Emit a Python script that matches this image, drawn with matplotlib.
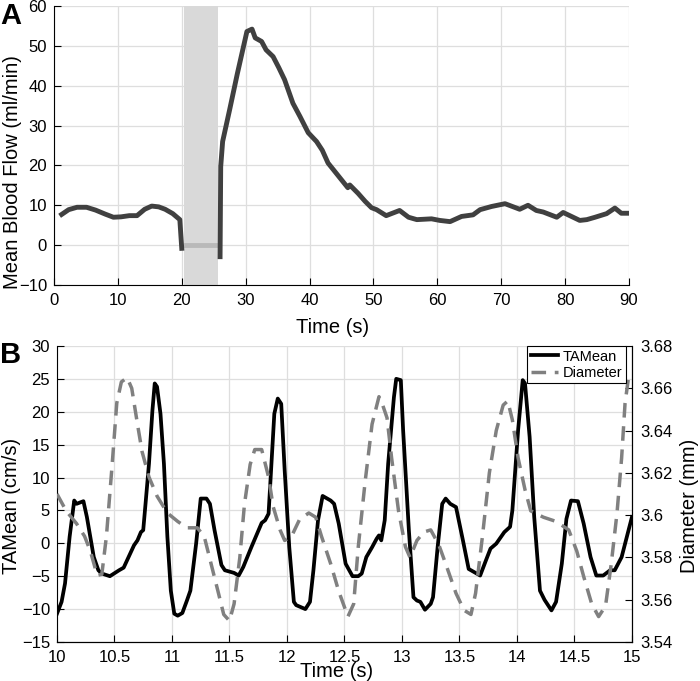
import numpy as np
import matplotlib
matplotlib.use("Agg")
from matplotlib import pyplot as plt

plt.rcParams['font.family'] = ['Liberation Sans', 'DejaVu Sans']

# panel A: mean blood flow (ml/min) vs time (s)
flow_pre_t = [1.2, 2.3, 3.6, 5.1, 6.5, 8.0, 9.3, 10.5, 11.8, 13.0, 14.2, 15.3,
              16.4, 17.4, 18.6, 19.7, 20.0]
flow_pre_v = [7.7, 8.9, 9.5, 9.5, 8.8, 7.8, 7.0, 7.1, 7.4, 7.4, 9.0, 9.8,
              9.6, 9.0, 7.9, 6.4, -0.8]
flow_post_t = [26.0, 26.1, 26.4, 27.5, 28.7, 30.2, 31.0, 31.5, 32.5, 33.2, 34.3,
               35.2, 36.1, 37.4, 38.5, 39.8, 41.1, 42.0, 42.9, 44.2, 46.0, 46.3,
               47.6, 48.7, 49.7, 50.5, 52.0, 54.1, 55.5, 56.8, 59.1, 60.4, 62.0,
               63.8, 65.6, 66.7, 68.5, 70.6, 72.9, 74.2, 75.5, 76.6, 78.7, 79.7,
               81.0, 82.3, 83.4, 84.7, 86.5, 87.8, 88.8, 90.0]
flow_post_v = [-2.9, 19.7, 26.0, 34.0, 43.0, 53.6, 54.2, 52.0, 51.1, 49.0, 47.3,
               44.5, 41.5, 35.6, 32.3, 28.2, 26.0, 23.8, 20.6, 18.0, 14.4, 15.1,
               13.0, 11.0, 9.4, 8.9, 7.4, 8.7, 7.0, 6.4, 6.6, 6.2, 5.9,
               7.2, 7.6, 8.9, 9.7, 10.4, 9.0, 10.0, 8.7, 8.3, 7.0, 8.2,
               7.2, 6.2, 6.4, 7.0, 7.9, 9.3, 8.0, 8.0]
occl_start, occl_end = 20.4, 25.7
occl_line_t = [20.6, 25.4]
occl_line_v = [0.0, 0.0]

# panel B: TAMean (cm/s) and diameter (mm) vs time (s)
tam_t = [10.00, 10.04, 10.07, 10.11, 10.15, 10.17, 10.23, 10.26, 10.32, 10.36,
         10.39, 10.46, 10.54, 10.58, 10.67, 10.70, 10.73, 10.75, 10.77, 10.80,
         10.83, 10.85, 10.87, 10.90, 10.93, 10.96, 10.99, 11.02, 11.05, 11.09,
         11.13, 11.16, 11.21, 11.25, 11.30, 11.33, 11.37, 11.43, 11.46, 11.54,
         11.58, 11.62, 11.69, 11.78, 11.81, 11.84, 11.86, 11.89, 11.92, 11.95,
         11.98, 12.02, 12.06, 12.08, 12.16, 12.20, 12.23, 12.27, 12.31, 12.38,
         12.41, 12.45, 12.51, 12.57, 12.62, 12.65, 12.69, 12.74, 12.78, 12.80,
         12.82, 12.85, 12.88, 12.93, 12.95, 12.99, 13.01, 13.06, 13.10, 13.13,
         13.16, 13.20, 13.25, 13.27, 13.31, 13.35, 13.38, 13.42, 13.47, 13.53,
         13.58, 13.61, 13.68, 13.73, 13.77, 13.82, 13.89, 13.94, 13.96, 14.01,
         14.05, 14.07, 14.11, 14.15, 14.20, 14.24, 14.30, 14.34, 14.39, 14.43,
         14.47, 14.53, 14.58, 14.64, 14.69, 14.75, 14.81, 14.85, 14.91, 15.00]
tam_v = [-10.7, -8.9, -6.1, 1.0, 6.5, 6.0, 6.4, 4.0, -2.1, -4.1,
         -4.6, -5.0, -4.1, -3.7, -0.3, 0.45, 1.7, 2.0, 6.0, 12.1,
         20.2, 24.3, 23.8, 19.7, 12.1, 1.0, -7.2, -10.7, -11.0, -10.6,
         -8.7, -7.2, -0.05, 6.8, 6.8, 6.0, 2.0, -3.3, -4.1, -4.5,
         -4.9, -3.6, -0.6, 3.1, 3.5, 4.5, 10.6, 19.7, 22.0, 21.2,
         11.1, -0.6, -8.9, -9.4, -10.0, -8.9, -4.1, 3.5, 7.2, 6.5,
         6.0, 3.0, -3.1, -5.0, -5.0, -4.6, -2.1, -0.6, 0.7, 1.2,
         0.45, 3.5, 12.1, 22.2, 25.0, 24.8, 17.2, 2.0, -8.2, -8.7,
         -8.9, -10.1, -9.2, -8.2, -0.6, 6.0, 6.8, 6.0, 5.5, 0.45,
         -3.9, -4.2, -4.9, -2.6, -0.8, -0.05, 1.7, 2.5, 5.0, 17.2,
         24.8, 24.3, 16.2, 4.0, -7.2, -8.6, -10.2, -8.9, -3.1, 3.7,
         6.5, 6.4, 3.0, -2.1, -4.9, -4.9, -4.1, -4.1, -2.1, 4.0]
dia_t = [10.00, 10.08, 10.17, 10.24, 10.29, 10.35, 10.39, 10.43, 10.48, 10.52,
         10.56, 10.61, 10.65, 10.70, 10.74, 10.80, 10.87, 10.96, 11.05, 11.13,
         11.22, 11.28, 11.34, 11.40, 11.45, 11.50, 11.54, 11.59, 11.63, 11.68,
         11.72, 11.78, 11.84, 11.88, 11.94, 11.98, 12.04, 12.11, 12.19, 12.25,
         12.30, 12.38, 12.45, 12.53, 12.58, 12.62, 12.68, 12.74, 12.80, 12.82,
         12.87, 12.91, 12.97, 13.03, 13.07, 13.13, 13.19, 13.25, 13.32, 13.38,
         13.47, 13.54, 13.60, 13.64, 13.70, 13.76, 13.82, 13.88, 13.92, 13.96,
         14.01, 14.07, 14.12, 14.23, 14.34, 14.45, 14.52, 14.58, 14.65, 14.71,
         14.77, 14.82, 14.87, 14.91, 14.94, 14.97]
dia_v = [3.610, 3.602, 3.596, 3.590, 3.583, 3.5715, 3.572, 3.590, 3.624, 3.653,
         3.663, 3.665, 3.660, 3.643, 3.630, 3.618, 3.609, 3.601, 3.597, 3.594,
         3.594, 3.590, 3.577, 3.564, 3.553, 3.550, 3.558, 3.580, 3.605, 3.624,
         3.631, 3.631, 3.618, 3.604, 3.593, 3.588, 3.590, 3.598, 3.601, 3.599,
         3.590, 3.577, 3.564, 3.552, 3.558, 3.585, 3.616, 3.643, 3.656, 3.654,
         3.646, 3.627, 3.602, 3.585, 3.580, 3.588, 3.592, 3.593, 3.586, 3.577,
         3.563, 3.555, 3.553, 3.563, 3.590, 3.620, 3.640, 3.652, 3.654, 3.645,
         3.627, 3.612, 3.602, 3.599, 3.597, 3.593, 3.583, 3.571, 3.558, 3.552,
         3.557, 3.577, 3.601, 3.627, 3.653, 3.665]

FS = 12      # tick labels
LFS = 14.5   # axis labels
GRID = '#dedede'


def style(ax, right=False):
    ax.grid(True, color=GRID, linewidth=0.9)
    ax.set_axisbelow(True)
    ax.spines['top'].set_visible(False)
    if not right:
        ax.spines['right'].set_visible(False)
    ax.tick_params(direction='in', length=5, width=0.8, labelsize=FS)
    ax.tick_params(axis='x', pad=6)
    ax.tick_params(axis='y', pad=5)


fig = plt.figure(figsize=(7, 6.81), dpi=100)

ax1 = fig.add_axes([0.0771, 0.5815, 0.8214, 0.4097])
style(ax1)
ax1.axvspan(occl_start, occl_end, color='#d9d9d9', zorder=1, lw=0)
ax1.plot(occl_line_t, occl_line_v, color='#b9b9b9', lw=3.5, zorder=2)
ax1.plot(flow_pre_t, flow_pre_v, color='#404040', lw=3.5, zorder=3)
ax1.plot(flow_post_t, flow_post_v, color='#404040', lw=3.5, zorder=3)
ax1.set_xlim(0, 90)
ax1.set_ylim(-10, 60)
ax1.set_xticks(np.arange(0, 91, 10))
ax1.set_yticks(np.arange(-10, 61, 10))
ax1.set_xlabel('Time (s)', fontsize=LFS)
ax1.xaxis.set_label_coords(0.485, -0.118)
ax1.set_ylabel('Mean Blood Flow (ml/min)', fontsize=LFS)
ax1.yaxis.set_label_coords(-0.056, 0.405)

ax2 = fig.add_axes([0.0814, 0.0573, 0.8214, 0.4347])
style(ax2, right=True)
ax2.set_xlim(10, 15)
ax2.set_ylim(-15, 30)
ax2.set_xticks(np.arange(10, 15.01, 0.5))
ax2.set_xticklabels(['10', '10.5', '11', '11.5', '12', '12.5', '13', '13.5',
                     '14', '14.5', '15'])
ax2.set_yticks(np.arange(-15, 31, 5))
ax2.set_xlabel('Time (s)', fontsize=LFS)
ax2.xaxis.set_label_coords(0.487, -0.066)
ax2.set_ylabel('TAMean (cm/s)', fontsize=LFS)
ax2.yaxis.set_label_coords(-0.062, 0.46)
l1, = ax2.plot(tam_t, tam_v, color='black', lw=2.7, zorder=3)

ax3 = ax2.twinx()
ax3.spines['top'].set_visible(False)
ax3.spines['left'].set_visible(False)
l2, = ax3.plot(dia_t, dia_v, color='#808080', lw=2.5, dashes=(4.2, 2.5), zorder=2)
ax3.set_ylim(3.54, 3.68)
ax3.set_yticks(np.arange(3.54, 3.681, 0.02))
ax3.set_yticklabels(['3.54', '3.56', '3.58', '3.6', '3.62', '3.64', '3.66', '3.68'])
ax3.tick_params(direction='in', length=5, width=0.8, labelsize=FS, pad=6)
ax3.set_ylabel('Diameter (mm)', fontsize=LFS)
ax3.yaxis.set_label_coords(1.083, 0.46)

leg = ax3.legend([l1, l2], ['TAMean', 'Diameter'], loc='upper right',
                 bbox_to_anchor=(0.9896, 1.0), borderaxespad=0,
                 fontsize=10.5, frameon=True, fancybox=False, framealpha=1,
                 handlelength=1.9, handletextpad=0.3,
                 borderpad=0.25, labelspacing=0.15)
leg.get_frame().set_edgecolor('black')
leg.get_frame().set_linewidth(0.8)

fig.text(0.0, 0.997, 'A', fontsize=21, fontweight='bold', va='top', ha='left')
fig.text(0.0, 0.499, 'B', fontsize=21, fontweight='bold', va='top', ha='left')

fig.savefig('out.png', dpi=100)
